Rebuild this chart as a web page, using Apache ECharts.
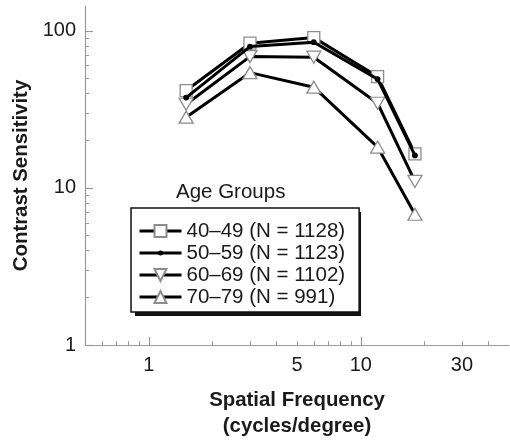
<!DOCTYPE html>
<html>
<head>
<meta charset="utf-8">
<script src="https://cdn.jsdelivr.net/npm/echarts@6/dist/echarts.min.js"></script>
<style>
html,body{margin:0;padding:0;background:#fff;}
#c{width:510px;height:440px;}
</style>
</head>
<body>
<div id="c"></div>
<script>
// ---- data ----
const freq = [1.5, 3, 6, 12, 18];
const cs4049 = [41.7, 83.5, 90.6, 51.2, 16.5];
const cs5059 = [37.6, 79.4, 84.7, 49.3, 16.1];
const cs6069 = [34.1, 68.6, 68.0, 34.6, 11.0];
const cs7079 = [28.2, 54.2, 43.8, 18.2, 6.8];
const seriesNames = ['40–49 (N = 1128)', '50–59 (N = 1123)', '60–69 (N = 1102)', '70–79 (N = 991)'];
const xLabelValues = [1, 5, 10, 30];
const xMajorTicks = [1, 10];
const xMinorTicks = [0.6, 0.7, 0.8, 0.9, 2, 3, 4, 5, 6, 7, 8, 9, 20, 30, 40];
const yLabelValues = [1, 10, 100];
const yMajorTicks = [1, 10, 100];
const yMinorTicks = [2, 3, 4, 5, 6, 7, 8, 9, 20, 30, 40, 50, 60, 70, 80, 90];

const FONT = 'Liberation Sans, Arial, Helvetica, sans-serif';
const AXIS_GRAY = '#9a9a9a';
const TXT = '#1a1a1a';
const SYM_GRAY = '#8c8c8c';

const pairs = arr => freq.map((f, i) => [f, arr[i]]);

const dotPath = 'path://M0,0M12,12M3.5,6a2.5,2.5,0,1,0,5,0a2.5,2.5,0,1,0,-5,0z';
const downTri = 'path://M0,0L14,0L7,12Z';

const baseLine = { color: '#000', width: 3 };

const chart = echarts.init(document.getElementById('c'), null, { renderer: 'canvas' });
chart.setOption({
  animation: false,
  backgroundColor: '#fff',
  textStyle: { fontFamily: FONT },
  title: {
    text: 'Age Groups',
    left: 176, top: 182, padding: 0,
    textStyle: { fontFamily: FONT, fontSize: 20.5, fontWeight: 'normal', color: TXT }
  },
  graphic: [{
    type: 'rect', z: 1, silent: true,
    shape: { x: 135, y: 212, width: 226, height: 104 },
    style: { fill: '#111' }
  }],
  legend: {
    z: 3,
    orient: 'vertical',
    left: 131, top: 208,
    padding: [12, 14, 4, 7],
    itemWidth: 42, itemHeight: 15, itemGap: 0,
    borderColor: '#111', borderWidth: 1.5,
    backgroundColor: '#fff',
    lineStyle: { color: '#000', width: 3 },
    textStyle: { fontFamily: FONT, fontSize: 20.5, color: TXT, lineHeight: 22 },
    data: seriesNames
  },
  grid: { left: 85, right: 1, top: 6, bottom: 95, containLabel: false, outerBoundsMode: 'none' },
  xAxis: [
    {
      type: 'log', logBase: 10, min: 0.5, max: 50, position: 'bottom',
      name: 'Spatial Frequency\n(cycles/degree)',
      nameLocation: 'middle', nameGap: 42,
      nameTextStyle: { fontFamily: FONT, fontSize: 20.4, fontWeight: 'bold', color: TXT, lineHeight: 26 },
      axisLine: { show: true, lineStyle: { color: AXIS_GRAY, width: 1.2 } },
      axisTick: { show: true, inside: true, length: 4, customValues: xMinorTicks, lineStyle: { color: AXIS_GRAY, width: 1 } },
      axisLabel: { show: true, customValues: xLabelValues, margin: 10, fontFamily: FONT, fontSize: 20, color: TXT },
      splitLine: { show: false }, minorTick: { show: false }
    },
    {
      type: 'log', logBase: 10, min: 0.5, max: 50, position: 'bottom', offset: 0,
      axisLine: { show: false },
      axisTick: { show: true, inside: true, length: 8, customValues: xMajorTicks, lineStyle: { color: AXIS_GRAY, width: 1.2 } },
      axisLabel: { show: false },
      splitLine: { show: false }
    }
  ],
  yAxis: [
    {
      type: 'log', logBase: 10, min: 1, max: 144, position: 'left',
      name: 'Contrast Sensitivity',
      nameLocation: 'middle', nameGap: 52,
      nameTextStyle: { fontFamily: FONT, fontSize: 20.4, fontWeight: 'bold', color: TXT },
      axisLine: { show: true, lineStyle: { color: AXIS_GRAY, width: 1.2 } },
      axisTick: { show: true, inside: true, length: 4, customValues: yMinorTicks, lineStyle: { color: AXIS_GRAY, width: 1 } },
      axisLabel: { show: true, customValues: yLabelValues, margin: 9, fontFamily: FONT, fontSize: 20, color: TXT },
      splitLine: { show: false }
    },
    {
      type: 'log', logBase: 10, min: 1, max: 144, position: 'left', offset: 0,
      axisLine: { show: false },
      axisTick: { show: true, inside: true, length: 8, customValues: yMajorTicks, lineStyle: { color: AXIS_GRAY, width: 1.2 } },
      axisLabel: { show: false },
      splitLine: { show: false }
    }
  ],
  series: [
    {
      name: seriesNames[0], type: 'line', data: pairs(cs4049),
      symbol: 'rect', symbolSize: 12,
      lineStyle: baseLine,
      itemStyle: { color: '#fff', borderColor: SYM_GRAY, borderWidth: 1.3 }, z: 4
    },
    {
      name: seriesNames[1], type: 'line', data: pairs(cs5059),
      symbol: dotPath, symbolSize: 14,
      lineStyle: baseLine,
      itemStyle: { color: '#000', borderWidth: 0 }, z: 5
    },
    {
      name: seriesNames[2], type: 'line', data: pairs(cs6069),
      symbol: downTri, symbolSize: [14, 12],
      lineStyle: baseLine,
      itemStyle: { color: '#fff', borderColor: SYM_GRAY, borderWidth: 1.3 }, z: 3
    },
    {
      name: seriesNames[3], type: 'line', data: pairs(cs7079),
      symbol: 'triangle', symbolSize: [14, 12],
      lineStyle: baseLine,
      itemStyle: { color: '#fff', borderColor: SYM_GRAY, borderWidth: 1.3 }, z: 3
    }
  ]
});
</script>
</body>
</html>
